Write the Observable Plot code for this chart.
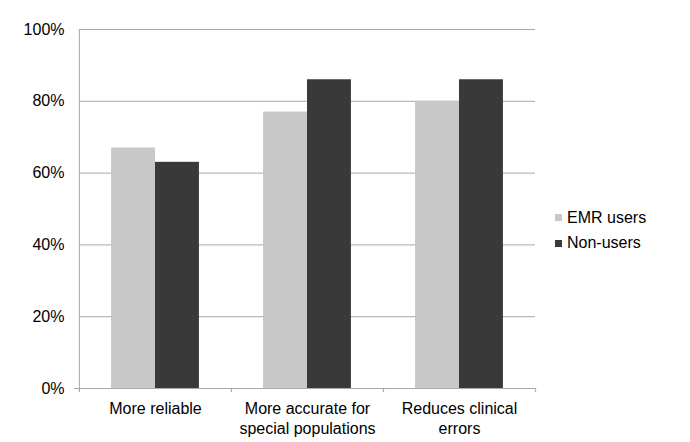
<!DOCTYPE html>
<html><head><meta charset="utf-8">
<script src="https://cdn.jsdelivr.net/npm/d3@7"></script>
<script src="https://cdn.jsdelivr.net/npm/@observablehq/plot@0.6"></script>
<style>
body{margin:0;background:#fff;font-family:"Liberation Sans",Arial,sans-serif}
#wrap{position:relative;width:690px;height:442px}
#legend{position:absolute;left:555px;top:205px;font-size:16px;color:#000;line-height:16px}
.item{display:flex;align-items:center;height:25.5px}
.sw{width:7px;height:7px;margin-right:5px;flex:none}
</style></head><body>
<div id="wrap"><div id="legend"></div></div>
<script>
const categories = ["More reliable", "More accurate for\nspecial populations", "Reduces clinical\nerrors"];
const series = ["EMR users", "Non-users"];
const emrUsers = [67, 77, 80];
const nonUsers = [63, 86, 86];
const yTicks = [0, 20, 40, 60, 80, 100];
const colors = ["#c8c8c8", "#393939"];

const data = categories.flatMap((c, i) => [
  {category: c, series: series[0], value: emrUsers[i]},
  {category: c, series: series[1], value: nonUsers[i]}
]);

const W = 690, H = 442, mL = 78, mR = 155, mT = 29, mB = 54;
const plotH = H - mT - mB;
const facetW = (W - mL - mR) / categories.length;
const padOuter = 0.73;
const step = facetW / (series.length + 2 * padOuter);
const edge = (0.5 + padOuter) * step;
const lineColor = "#a8a8a8";

const plot = Plot.plot({
  width: W, height: H,
  marginLeft: mL, marginRight: mR, marginTop: mT, marginBottom: mB,
  style: {fontFamily: "Liberation Sans, Arial, sans-serif", fontSize: "16px", color: "#000", background: "#fff"},
  fx: {domain: categories, padding: 0, label: null, axis: null},
  x: {domain: series, axis: null, paddingInner: 0, paddingOuter: padOuter, round: false},
  y: {domain: [0, 100], axis: null, label: null},
  color: {domain: series, range: colors},
  marks: [
    Plot.gridY(yTicks.filter(d => d > 0), {stroke: lineColor, strokeOpacity: 1}),
    Plot.barY(data, {fx: "category", x: "series", y: "value", fill: "series"}),
    Plot.ruleY([0], {stroke: lineColor, insetLeft: -5}),
    Plot.ruleX([series[0]], {fx: () => categories[0], x: d => d, dx: -edge, stroke: lineColor, insetBottom: -4}),
    Plot.ruleX(categories, {fx: d => d, x: () => series[0], dx: -edge, stroke: lineColor, insetTop: plotH, insetBottom: -4}),
    Plot.ruleX(categories, {fx: d => d, x: () => series[1], dx: edge, stroke: lineColor, insetTop: plotH, insetBottom: -4}),
    Plot.axisY(yTicks, {tickSize: 0, tickPadding: 15, tickFormat: d => d + "%", fontSize: 16, label: null}),
    Plot.axisFx({anchor: "bottom", tickSize: 0, tickPadding: 11, lineHeight: 1.25, fontSize: 16, label: null})
  ]
});
document.getElementById("wrap").prepend(plot);

const legend = document.getElementById("legend");
series.forEach((s, i) => {
  const item = document.createElement("div");
  item.className = "item";
  const sw = document.createElement("span");
  sw.className = "sw";
  sw.style.background = colors[i];
  const t = document.createElement("span");
  t.textContent = s;
  item.append(sw, t);
  legend.append(item);
});
</script>
</body></html>
